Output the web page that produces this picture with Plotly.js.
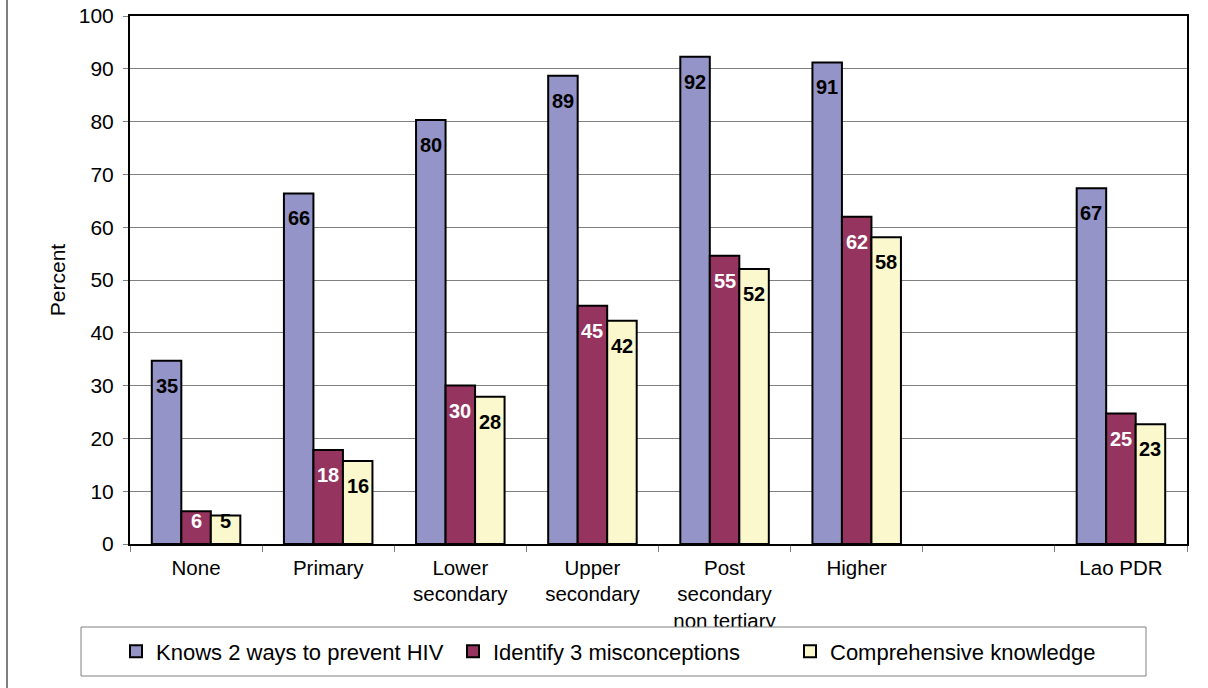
<!DOCTYPE html>
<html>
<head>
<meta charset="utf-8">
<script src="https://cdn.plot.ly/plotly-3.0.1.min.js"></script>
<style>
  html, body { margin: 0; padding: 0; background: #fff; }
  #chart { width: 1208px; height: 688px; }
</style>
</head>
<body>
<div id="chart"></div>
<script>
// ---- data ----
const categories = ['None', 'Primary', 'Lower<br>secondary', 'Upper<br>secondary',
  'Post<br>secondary<br>non tertiary', 'Higher', ' ', 'Lao PDR'];
const seriesNames = ['Knows 2 ways to prevent HIV', 'Identify 3 misconceptions', 'Comprehensive knowledge'];
const knows2Ways = [34.7, 66.4, 80.3, 88.7, 92.3, 91.2, null, 67.4];
const identify3Misconceptions = [6.2, 17.8, 30.0, 45.1, 54.6, 62.0, null, 24.7];
const comprehensiveKnowledge = [5.4, 15.7, 27.9, 42.3, 52.1, 58.1, null, 22.7];
const yTicks = [0, 10, 20, 30, 40, 50, 60, 70, 80, 90, 100];

// ---- styles ----
const FONT = 'Arial, "Liberation Sans", sans-serif';
const colors = ['rgb(149,148,200)', 'rgb(150,52,96)', 'rgb(250,248,204)'];
const labelColors = ['#000000', '#ffffff', '#000000'];
const W = 1208, H = 688;
const margin = { l: 130, r: 21, t: 16, b: 144 };
const plotW = W - margin.l - margin.r;
const plotH = H - margin.t - margin.b;
const bargap = 0.33;
const yMax = 100;
const px2x = p => (p - margin.l) / plotW;          // pixel -> paper x
const px2y = p => (H - margin.b - p) / plotH;      // pixel -> paper y

const seriesValues = [knows2Ways, identify3Misconceptions, comprehensiveKnowledge];

const traces = seriesValues.map((vals, i) => ({
  type: 'bar',
  name: seriesNames[i],
  x: categories,
  y: vals,
  marker: { color: colors[i], line: { color: '#000000', width: 2 } },
  hoverinfo: 'x+y+name'
}));

// data labels (inside end), derived from the data values
const slotPx = plotW / categories.length;
const barPx = slotPx * (1 - bargap) / seriesValues.length;
const pxPerUnit = plotH / yMax;
const annotations = [];
seriesValues.forEach((vals, i) => {
  vals.forEach((v, j) => {
    if (v === null) return;
    const barHeightPx = v * pxPerUnit;
    const drop = Math.min(25, barHeightPx - 23);
    annotations.push({
      x: categories[j], y: v, xref: 'x', yref: 'y',
      xshift: (i - 1) * barPx, yshift: -drop,
      yanchor: 'middle', xanchor: 'center',
      text: String(Math.round(v)),
      showarrow: false,
      font: { family: FONT, size: 20, color: labelColors[i], weight: 'bold' }
    });
  });
});

const layout = {
  width: W, height: H,
  margin: margin,
  paper_bgcolor: '#ffffff',
  plot_bgcolor: '#ffffff',
  font: { family: FONT, size: 21, color: '#000000' },
  barmode: 'group',
  bargap: bargap,
  bargroupgap: 0,
  showlegend: true,
  legend: {
    orientation: 'h',
    x: px2x(116), xanchor: 'left',
    y: px2y(651.5), yanchor: 'middle',
    bgcolor: 'rgba(0,0,0,0)', borderwidth: 0,
    font: { family: FONT, size: 22, color: '#000000' },
    itemwidth: 30,
    entrywidth: 292, entrywidthmode: 'pixels',
    traceorder: 'normal'
  },
  xaxis: {
    type: 'category',
    range: [-0.5, categories.length - 0.5],
    tickson: 'boundaries',
    ticks: 'outside', ticklen: 6, tickcolor: '#808080', tickwidth: 1,
    ticklabelstandoff: 4,
    showline: true, linecolor: '#000000', linewidth: 2, mirror: true,
    showgrid: false, zeroline: false,
    tickfont: { family: FONT, size: 20.5, color: '#000000' },
    fixedrange: true
  },
  yaxis: {
    range: [0, yMax],
    tickvals: yTicks,
    ticks: 'outside', ticklen: 5, tickcolor: '#808080', tickwidth: 1,
    ticklabelstandoff: 5,
    showline: true, linecolor: '#000000', linewidth: 2, mirror: true,
    showgrid: true, gridcolor: '#808080', gridwidth: 1,
    zeroline: false,
    tickfont: { family: FONT, size: 21, color: '#000000' },
    title: { text: 'Percent', font: { family: FONT, size: 21, color: '#000000' }, standoff: 7 },
    fixedrange: true
  },
  annotations: annotations,
  shapes: [
    { // chart-area left border
      type: 'line', xref: 'paper', yref: 'paper',
      x0: px2x(7), x1: px2x(7), y0: px2y(H), y1: px2y(0),
      line: { color: '#000000', width: 1 }
    },
    { // legend frame
      type: 'rect', xref: 'paper', yref: 'paper', layer: 'above',
      x0: px2x(81), x1: px2x(1146), y0: px2y(676), y1: px2y(627),
      fillcolor: '#ffffff', line: { color: '#808080', width: 1 }
    }
  ]
};

Plotly.newPlot('chart', traces, layout, { displayModeBar: false, staticPlot: true });
</script>
</body>
</html>
